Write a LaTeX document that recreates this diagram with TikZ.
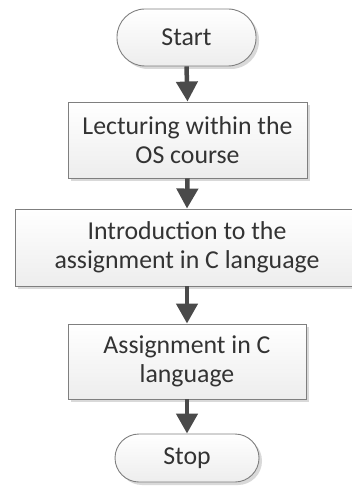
\documentclass[tikz,border=0pt]{standalone}
\usepackage{fontspec}
\setmainfont{Carlito}
\usetikzlibrary{arrows.meta,shadows}
\definecolor{boxline}{HTML}{7F7F7F}
\definecolor{flowarrow}{HTML}{4A4A4A}
\definecolor{textgray}{HTML}{333333}
\tikzset{
  x=1pt, y=1pt,
  flowbase/.style={draw=boxline, line width=0.9pt, top color=white, bottom color=gray!14,
    inner sep=0pt, align=center, font=\fontsize{25.8}{29.5}\selectfont, text=textgray,
    drop shadow={shadow xshift=3pt, shadow yshift=-3pt, fill=gray!30, opacity=1}},
  process/.style={flowbase, rectangle},
  terminal/.style={flowbase, rectangle, rounded corners=24pt},
  flow/.style={draw=flowarrow, line width=4.5pt, -{Triangle[width=21pt,length=20pt]}}
}
\begin{document}
\begin{tikzpicture}
\useasboundingbox (0,0) rectangle (352,-494);
\clip (0,0) rectangle (352,-494);
\node[terminal, minimum width=139pt, minimum height=57pt, rounded corners=28pt] (start) at (186.5,-37.5) {Start};
\node[process, minimum width=239pt, minimum height=76pt] (lect) at (187.5,-140) {Lecturing within the\\OS course};
\node[process, minimum width=344pt, minimum height=77pt] (intro) at (187,-247.5) {Introduction to the\\assignment in C language};
\node[process, minimum width=238pt, minimum height=75pt] (assign) at (187,-361.5) {Assignment in C\\language};
\node[terminal, minimum width=144pt, minimum height=48pt] (stop) at (187,-458) {Stop};
\draw[flow] (start.south) -- (lect.north);
\draw[flow] (lect.south) -- (intro.north);
\draw[flow] (intro.south) -- (assign.north);
\draw[flow] (assign.south) -- (stop.north);
\end{tikzpicture}
\end{document}
